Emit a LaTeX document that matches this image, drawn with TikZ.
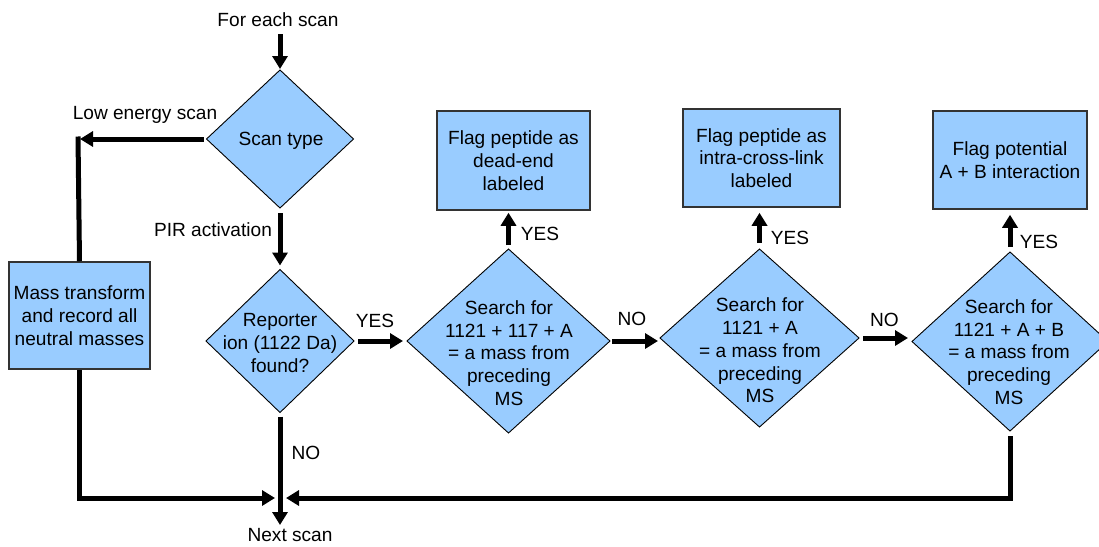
\documentclass[tikz,border=0pt]{standalone}
\usepackage{fontspec}
\setmainfont{Liberation Sans}
\usetikzlibrary{shapes.geometric,arrows.meta}
\definecolor{fillblue}{HTML}{99CCFF}
\begin{document}
\begin{tikzpicture}[x=1pt,y=-1pt,
  font=\fontsize{19.1}{22.7}\selectfont,
  box/.style={draw=black!80, line width=1.5pt, fill=fillblue, inner sep=2pt, align=center},
  dia/.style={draw=black, line width=0.9pt, fill=fillblue, shape=diamond, inner sep=0pt, outer sep=0pt},
  txt/.style={align=center, inner sep=0pt},
  arr/.style={line width=5pt, -{Triangle[length=13pt,width=15pt]}},
  ln/.style={line width=5pt}]
\useasboundingbox (0,0) rectangle (1099,546);

% nodes
\node[txt] (start) at (278,20) {For each scan};
\node[dia, minimum width=147pt, minimum height=138pt] (st) at (280,139) {};
\node[txt] (sttxt) at (281,141) {Scan type};
\node[dia, minimum width=148pt, minimum height=143pt] (rep) at (280,341) {};
\node[txt] (reptxt) at (280,343) {Reporter\\ion (1122 Da)\\found?};
\node[box, minimum width=141pt, minimum height=107pt] (mt) at (79.5,315.5) {Mass transform\\and record all\\neutral masses};
\node[dia, minimum width=203pt, minimum height=184pt] (d2) at (508.5,341) {};
\node[txt] (d2txt) at (509,353) {Search for\\1121 + 117 + A\\= a mass from\\preceding\\MS};
\node[dia, minimum width=199pt, minimum height=178pt] (d3) at (759.5,338) {};
\node[txt] (d3txt) at (760,350.5) {Search for\\1121 + A\\= a mass from\\preceding\\MS};
\node[dia, minimum width=196pt, minimum height=179pt] (d4) at (1010,341.5) {};
\node[txt] (d4txt) at (1009,352) {Search for\\1121 + A + B\\= a mass from\\preceding\\MS};
\node[box, minimum width=153pt, minimum height=99pt] (b2) at (513.5,160.5) {Flag peptide as\\dead-end\\labeled};
\node[box, minimum width=157pt, minimum height=98pt] (b3) at (761.5,158) {Flag peptide as\\intra-cross-link\\labeled};
\node[box, minimum width=154pt, minimum height=98pt] (b4) at (1010,160) {Flag potential\\A + B interaction};
\node[txt] (next) at (290,535) {Next scan};

% labels
\node[txt] (lowlbl) at (145,115) {Low energy scan};
\node[txt] (pirlbl) at (213,230) {PIR activation};
\node[txt] (yes1) at (375,321) {YES};
\node[txt] (nolbl) at (306,453) {NO};
\node[txt] (yes2) at (540,234) {YES};
\node[txt] (yes3) at (790,237.5) {YES};
\node[txt] (yes4) at (1039,241.5) {YES};
\node[txt] (no1) at (632,319) {NO};
\node[txt] (no2) at (884.5,319.5) {NO};

% coordinates
\coordinate (c1) at (78,139);
\coordinate (j) at (280,498);
\coordinate (nx) at (280,525);

% connectors
\draw[arr, shorten <=7pt, shorten >=1pt] (start.south -| st.north) -- (st.north);
\draw[arr, shorten <=5pt, shorten >=4pt] (st.south) -- (rep.north);
\draw[ln] (mt.north) -- ([yshift=2.5pt]c1);
\draw[arr, shorten <=3pt] (st.west) -- ([xshift=2pt]c1);
\draw[arr, shorten >=5pt] (mt.south) |- (j);
\draw[arr, shorten <=5pt, shorten >=6pt] (d4.south) |- (j);
\draw[arr, shorten <=4pt] (rep.south) -- (nx);
\draw[arr, shorten <=4pt, shorten >=4pt] (rep.east) -- (d2.west);
\draw[arr, shorten <=4pt, shorten >=2pt] (d2.north) -- (d2.north |- b2.south);
\draw[arr, shorten <=6pt, shorten >=5pt] (d3.north) -- (d3.north |- b3.south);
\draw[arr, shorten <=5pt, shorten >=5pt] (d4.north) -- (d4.north |- b4.south);
\draw[arr, shorten <=2pt, shorten >=2pt] (d2.east) -- (d2.east -| d3.west);
\draw[arr, shorten <=4pt, shorten >=4pt] (d3.east) -- (d3.east -| d4.west);
\end{tikzpicture}
\end{document}
